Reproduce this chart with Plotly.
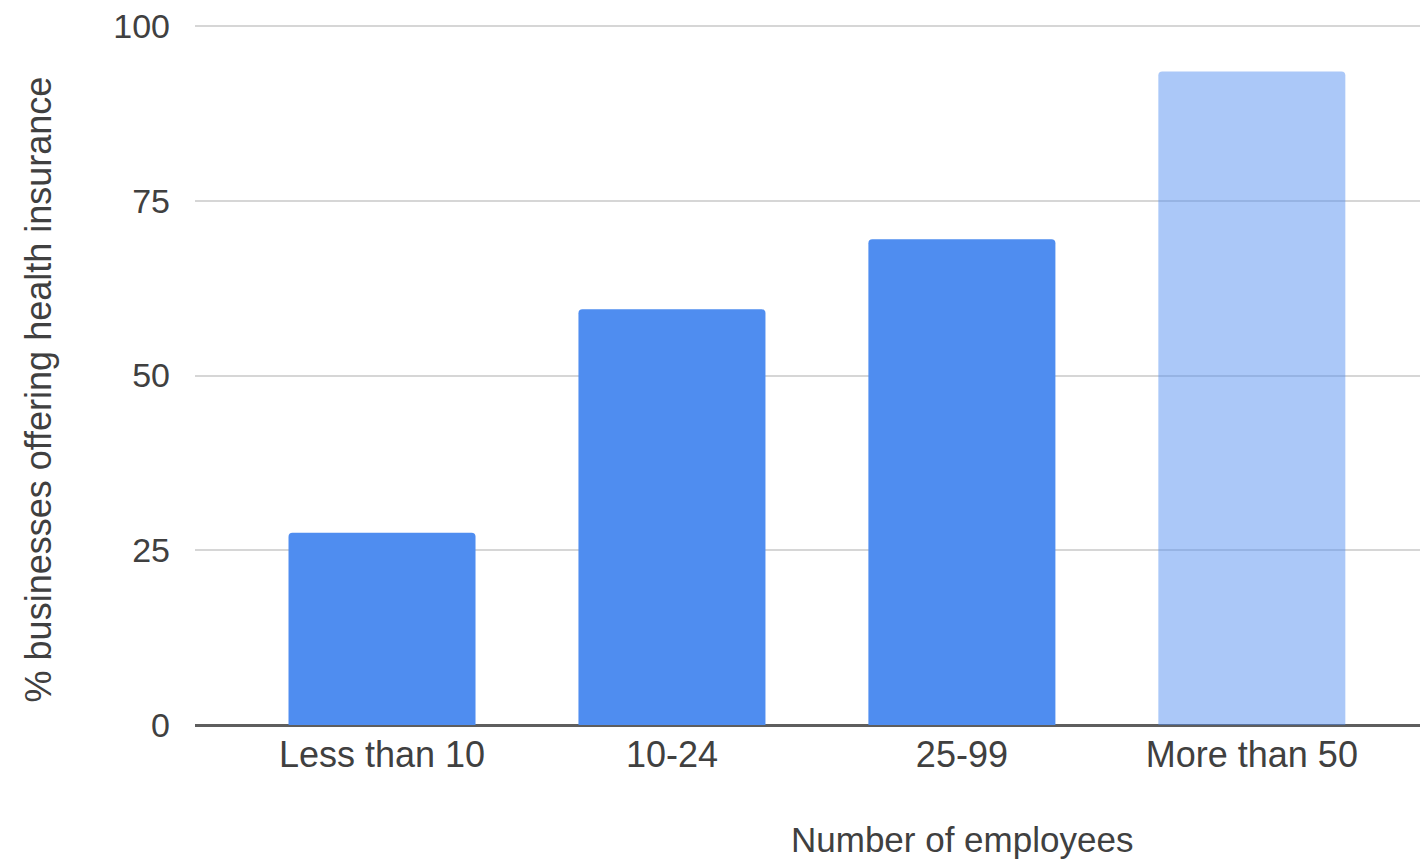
import plotly.graph_objects as go

categories = ["Less than 10", "10-24", "25-99", "More than 50"]
values = [27.5, 59.5, 69.5, 93.5]
bar_colors = ["#4f8df0", "#4f8df0", "#4f8df0", "rgba(79,141,240,0.48)"]
y_ticks = [0, 25, 50, 75, 100]

FONT = "Liberation Sans, Arial, sans-serif"
TXT = "#404040"

fig = go.Figure()
fig.add_trace(go.Bar(
    x=list(range(len(categories))),
    y=values,
    width=0.645,
    marker=dict(color=bar_colors, line=dict(width=0)),
    showlegend=False,
))

fig.update_layout(
    width=1420, height=864,
    margin=dict(l=195, r=0, t=24, b=139),
    paper_bgcolor="white", plot_bgcolor="white",
    barcornerradius=4,
    font=dict(family=FONT, size=34, color=TXT),
    xaxis=dict(
        range=[-0.645, 3.58],
        tickmode="array",
        tickvals=list(range(len(categories))),
        ticktext=categories,
        showgrid=False, zeroline=False, showline=False,
        ticks="", ticklabelstandoff=5,
        tickfont=dict(family=FONT, size=36, color=TXT),
    ),
    yaxis=dict(
        range=[0, 100.3],
        tickmode="array",
        tickvals=y_ticks,
        showgrid=True, gridcolor="#d6d6d6", gridwidth=2,
        zeroline=True, zerolinecolor="#5e5e5e", zerolinewidth=3,
        showline=False, ticks="", ticklabelstandoff=24,
        tickfont=dict(family=FONT, size=34, color=TXT),
    ),
    annotations=[
        dict(text="Number of employees", xref="paper", yref="paper",
             x=0.626, y=-0.163, showarrow=False,
             xanchor="center", yanchor="middle",
             font=dict(family=FONT, size=35, color=TXT)),
        dict(text="% businesses offering health insurance", xref="paper", yref="paper",
             x=-0.128, y=0.479, showarrow=False, textangle=-90,
             xanchor="center", yanchor="middle",
             font=dict(family=FONT, size=36, color=TXT)),
    ],
)

fig.write_html("out.html")
